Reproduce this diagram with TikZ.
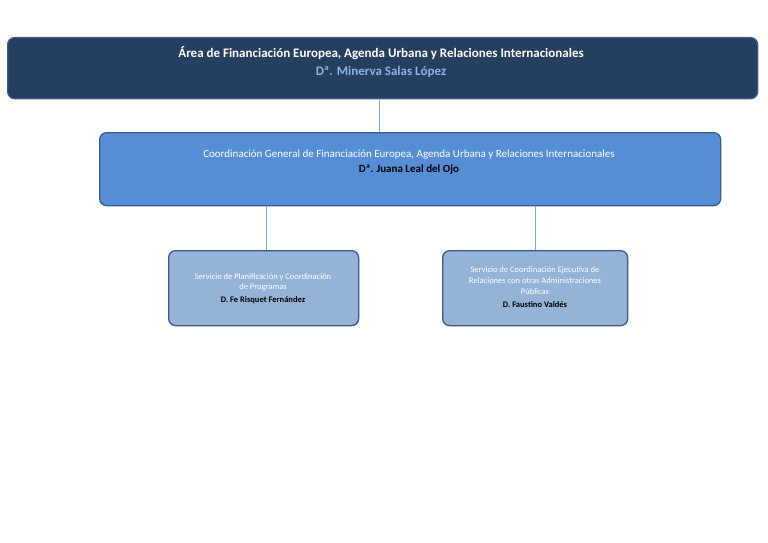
\documentclass[tikz,border=0pt]{standalone}
\usepackage{fontspec}
\setmainfont{Carlito}
\begin{document}
\begin{tikzpicture}[x=1pt,y=-1pt,
 box/.style={draw=bd,line width=1.3pt,rounded corners=7pt,anchor=north west,inner sep=0pt,align=center},
 conn/.style={draw=ln,line width=0.8pt}]
\definecolor{bd}{HTML}{385D8A}
\definecolor{ln}{HTML}{7EA6D8}
\definecolor{c1}{HTML}{243F60}
\definecolor{c2}{HTML}{558ED5}
\definecolor{c3}{HTML}{95B3D7}
\definecolor{lb}{HTML}{8DB3E2}
\useasboundingbox (0,0) rectangle (768,543);
\node[box,fill=c1,minimum width=750pt,minimum height=61pt] (a) at (7,37) {};
\node[text=white,font=\fontsize{13}{15}\selectfont\bfseries] at (381,53) {Área de Financiación Europea, Agenda Urbana y Relaciones Internacionales};
\node[text=lb,font=\fontsize{13}{15}\selectfont\bfseries] at (381,72) {Dª. Minerva Salas López};
\node[box,fill=c2,minimum width=621pt,minimum height=73pt] (b) at (99,132) {};
\node[text=white,font=\fontsize{11}{13}\selectfont] at (409,155) {Coordinación General de Financiación Europea, Agenda Urbana y Relaciones Internacionales};
\node[font=\fontsize{11}{13}\selectfont\bfseries] at (409,170) {Dª. Juana Leal del Ojo};
\node[box,fill=c3,minimum width=190pt,minimum height=75pt] (c) at (168,250) {};
\node[text=white,font=\fontsize{8.5}{10}\selectfont,align=center] at (263,282) {Servicio de Planificación y Coordinación\\de Programas};
\node[font=\fontsize{8.5}{10}\selectfont\bfseries] at (263,300) {D. Fe Risquet Fernández};
\node[box,fill=c3,minimum width=185pt,minimum height=75pt] (d) at (442,250) {};
\node[text=white,font=\fontsize{8.5}{11}\selectfont,align=center] at (535,281) {Servicio de Coordinación Ejecutiva de\\Relaciones con otras Administraciones\\Públicas};
\node[font=\fontsize{8.5}{10}\selectfont\bfseries] at (535,305) {D. Faustino Valdés};
\draw[conn] (a.south -| 379,0) -- (b.north -| 379,0);
\draw[conn] (b.south -| 266,0) -- (c.north -| 266,0);
\draw[conn] (b.south -| 535,0) -- (d.north -| 535,0);
\end{tikzpicture}
\end{document}
